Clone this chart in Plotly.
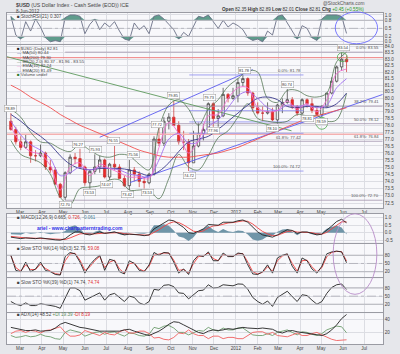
import numpy as np
import pandas as pd
import plotly.graph_objects as go

FONT = "Liberation Sans"

# ---------------- data (weekly) ----------------
week_end = pd.date_range("2011-02-18", "2012-06-08", freq="W-FRI")
dates = week_end - pd.Timedelta(days=2)
bi_dates = dates[::2]

opens = [78.3, 77.7, 76.8, 76.4, 76.8, 75.8, 75.8, 76.0, 75.0, 74.8,
         73.8, 72.9, 74.6, 75.7, 75.6, 75.0, 73.9, 74.7, 75.0, 75.5,
         74.3, 75.2, 75.0, 74.2, 73.7, 74.8, 74.5, 74.0, 73.9, 74.5,
         77.0, 76.7, 78.3, 78.6, 78.0, 76.8, 76.8, 75.3, 76.5, 77.4,
         77.7, 79.6, 78.5, 78.7, 80.3, 80.0, 80.2, 81.2, 81.5, 80.4,
         79.3, 78.9, 78.9, 79.0, 78.4, 79.5, 79.7, 79.9, 79.4, 78.9,
         79.9, 79.6, 79.1, 78.8, 79.4, 80.4, 81.3, 82.4, 83.0]
highs = [78.9, 77.9, 77.2, 77.3, 76.9, 76.2, 76.6, 76.1, 75.5, 75.0,
         73.9, 74.7, 75.9, 76.0, 76.3, 75.1, 74.8, 75.9, 75.8, 75.6,
         75.3, 76.5, 75.2, 74.4, 75.5, 75.0, 74.7, 74.3, 74.6, 77.2,
         77.8, 78.6, 78.9, 79.8, 78.3, 77.6, 77.0, 77.6, 78.2, 78.1,
         79.7, 79.7, 79.2, 80.8, 80.4, 80.8, 81.5, 81.78, 81.6, 80.5,
         79.7, 79.4, 79.7, 79.3, 79.6, 80.0, 80.7, 80.1, 79.5, 80.0,
         80.0, 80.0, 79.4, 79.5, 80.4, 81.6, 82.5, 83.54, 83.3]
lows = [77.6, 76.6, 76.2, 76.3, 75.3, 75.4, 75.7, 74.8, 74.6, 73.8,
        72.9, 72.7, 74.5, 75.2, 74.9, 73.7, 73.5, 74.5, 74.6, 74.2,
        74.1, 74.8, 74.2, 73.6, 73.4, 74.0, 73.6, 73.5, 73.8, 74.4,
        76.5, 76.5, 77.7, 78.0, 76.6, 76.2, 74.72, 75.3, 76.4, 76.9,
        77.6, 77.9, 77.9, 78.6, 79.7, 79.9, 79.7, 80.9, 80.2, 79.0,
        78.8, 78.3, 78.8, 78.3, 78.1, 78.9, 79.6, 79.2, 78.7, 78.8,
        79.3, 78.9, 78.7, 78.6, 79.3, 80.3, 81.2, 82.1, 82.0]
closes = [77.7, 76.8, 76.4, 76.8, 75.8, 75.8, 76.0, 75.0, 74.8, 73.8,
          72.9, 74.6, 75.7, 75.6, 75.0, 73.9, 74.7, 75.0, 75.5, 74.3,
          75.2, 75.0, 74.2, 73.7, 74.8, 74.5, 74.0, 73.9, 74.5, 77.0,
          76.7, 78.3, 78.6, 78.0, 76.8, 76.8, 75.3, 76.5, 77.4, 77.7,
          79.6, 78.5, 78.7, 80.3, 80.0, 80.2, 81.2, 81.5, 80.4, 79.3,
          78.9, 78.9, 79.0, 78.4, 79.5, 79.7, 79.9, 79.4, 78.9, 79.9,
          79.6, 79.1, 78.8, 79.4, 80.4, 81.3, 82.4, 83.0, 82.8]

# overlays (bi-weekly)
ma50 = [78.8, 78.3, 77.7, 77.2, 76.6, 75.8, 75.2, 74.9, 74.8, 74.9,
        74.9, 74.9, 74.8, 74.6, 74.4, 74.7, 75.3, 76.1, 76.8, 77.0,
        77.2, 77.7, 78.3, 78.9, 79.5, 80.0, 80.1, 79.9, 79.4, 79.3,
        79.4, 79.4, 79.3, 79.6, 80.4]
ma200 = [81.0, 80.6, 80.1, 79.7, 79.3, 78.8, 78.4, 78.0, 77.7, 77.4,
         77.1, 76.8, 76.5, 76.2, 76.0, 75.8, 75.7, 75.7, 75.7, 75.8,
         75.9, 76.0, 76.2, 76.4, 76.7, 77.0, 77.3, 77.6, 77.9, 78.2,
         78.5, 78.7, 78.9, 79.1, 79.3]
bb_up = [79.2, 78.6, 77.5, 76.8, 76.7, 76.3, 76.1, 76.6, 76.2, 75.8,
         75.7, 75.9, 75.8, 75.2, 74.8, 77.8, 79.5, 79.9, 79.2, 78.0,
         79.2, 79.9, 80.9, 81.5, 82.1, 82.0, 80.0, 79.7, 80.6, 80.6,
         80.2, 80.1, 80.4, 82.8, 83.55]
bb_lo = [76.9, 75.9, 75.6, 75.3, 74.5, 72.9, 72.4, 73.5, 73.6, 73.7,
         74.1, 74.1, 73.4, 73.4, 73.4, 72.8, 74.2, 75.9, 75.0, 74.8,
         75.8, 77.1, 77.6, 78.6, 79.6, 78.5, 78.3, 78.2, 78.3, 78.8,
         78.7, 78.7, 78.3, 78.4, 80.37]
ema10 = [77.9, 76.7, 76.1, 75.9, 75.1, 73.4, 75.0, 75.3, 74.4, 75.2,
         74.9, 74.6, 74.3, 74.3, 74.2, 76.4, 78.2, 77.4, 76.0, 76.9,
         78.7, 78.8, 80.0, 80.8, 80.8, 79.3, 79.0, 79.1, 79.8, 79.2,
         79.6, 79.0, 79.9, 81.9, 82.24]
ema20 = [78.3, 77.3, 76.6, 76.2, 75.6, 74.4, 74.6, 75.0, 74.8, 75.0,
         74.9, 74.8, 74.5, 74.4, 74.3, 75.5, 77.0, 77.4, 76.7, 76.8,
         77.9, 78.4, 79.3, 80.2, 80.5, 80.0, 79.3, 79.1, 79.5, 79.4,
         79.5, 79.3, 79.5, 80.8, 81.49]

# indicators (weekly)
stochrsi = [0.95, 0.25, 0.10, 0.75, 0.40, 0.85, 0.55, 0.15, 0.00, 0.05,
            0.00, 0.90, 1.00, 1.00, 0.95, 0.30, 0.65, 0.85, 0.45, 0.70,
            0.55, 0.75, 0.40, 0.10, 0.05, 0.70, 0.45, 0.60, 0.30, 0.95,
            1.00, 0.85, 0.65, 0.45, 0.10, 0.35, 0.20, 0.55, 0.95, 0.90,
            1.00, 0.75, 0.50, 0.80, 0.55, 0.70, 0.60, 0.45, 0.15, 0.05,
            0.10, 0.00, 0.40, 0.25, 0.95, 1.00, 0.70, 0.45, 0.10, 0.60,
            0.50, 0.15, 0.05, 0.85, 1.00, 1.00, 1.00, 0.95, 0.31]
macd = [-0.30, -0.35, -0.40, -0.35, -0.40, -0.40, -0.35, -0.40, -0.45, -0.48,
        -0.50, -0.40, -0.15, 0.05, 0.05, -0.10, -0.15, -0.05, 0.05, -0.05,
        0.00, 0.05, -0.05, -0.15, -0.10, -0.10, -0.15, -0.20, -0.15, 0.25,
        0.45, 0.70, 0.85, 0.80, 0.55, 0.35, 0.00, -0.05, 0.10, 0.25,
        0.55, 0.55, 0.50, 0.70, 0.70, 0.70, 0.80, 0.85, 0.70, 0.35,
        0.05, -0.15, -0.20, -0.30, -0.15, 0.05, 0.20, 0.15, -0.05, 0.05,
        0.05, -0.05, -0.15, -0.10, 0.15, 0.45, 0.75, 0.90, 0.665]
signal = [-0.25, -0.30, -0.33, -0.35, -0.36, -0.38, -0.37, -0.38, -0.40, -0.45,
          -0.48, -0.46, -0.35, -0.20, -0.08, -0.06, -0.10, -0.08, -0.03, -0.03,
          -0.02, 0.01, 0.00, -0.07, -0.10, -0.10, -0.12, -0.16, -0.16, 0.00,
          0.20, 0.42, 0.62, 0.73, 0.68, 0.52, 0.28, 0.10, 0.05, 0.12,
          0.32, 0.45, 0.48, 0.58, 0.65, 0.68, 0.73, 0.79, 0.76, 0.58,
          0.32, 0.08, -0.08, -0.20, -0.18, -0.06, 0.08, 0.12, 0.04, 0.03,
          0.04, 0.00, -0.08, -0.10, 0.02, 0.25, 0.52, 0.73, 0.726]
sto14_k = [80, 25, 20, 55, 20, 30, 55, 25, 20, 10,
           8, 75, 90, 85, 55, 15, 45, 65, 80, 25,
           65, 60, 20, 12, 60, 50, 25, 20, 45, 90,
           80, 90, 88, 55, 15, 30, 10, 60, 80, 75,
           92, 60, 60, 88, 75, 75, 88, 85, 45, 12,
           10, 20, 45, 15, 70, 80, 85, 40, 15, 70,
           60, 30, 15, 40, 85, 92, 95, 92, 52.79]
sto14_d = [78, 35, 22, 45, 28, 28, 48, 32, 22, 13,
           10, 60, 85, 87, 62, 25, 38, 60, 76, 35,
           55, 62, 30, 15, 50, 52, 30, 22, 40, 80,
           84, 88, 88, 62, 25, 28, 15, 50, 75, 78,
           88, 68, 60, 82, 78, 76, 85, 86, 55, 20,
           12, 18, 38, 22, 60, 77, 84, 50, 22, 60,
           62, 38, 20, 35, 75, 90, 94, 93, 59.08]
sto39 = [30, 20, 15, 25, 15, 15, 22, 18, 15, 12,
         5, 45, 80, 80, 70, 35, 45, 55, 62, 35,
         55, 60, 45, 30, 50, 45, 25, 18, 30, 75,
         72, 90, 92, 85, 62, 60, 40, 55, 70, 72,
         92, 80, 82, 92, 90, 88, 95, 94, 75, 45,
         30, 20, 32, 12, 45, 58, 68, 48, 30, 55,
         52, 35, 20, 30, 60, 82, 92, 95, 74.74]
adx = [28, 26, 24, 23, 23, 24, 22, 22, 23, 27,
       33, 36, 33, 30, 28, 27, 25, 23, 22, 22,
       22, 23, 22, 24, 25, 22, 19, 17, 15, 18,
       22, 27, 33, 37, 36, 32, 28, 24, 20, 18,
       22, 24, 23, 24, 26, 25, 27, 28, 27, 26,
       26, 27, 26, 25, 21, 19, 22, 23, 21, 20,
       19, 18, 16, 15, 18, 24, 32, 42, 48.52]
plus_di = [15, 12, 13, 15, 13, 14, 17, 14, 13, 10,
           9, 20, 24, 22, 20, 14, 17, 20, 21, 17,
           20, 21, 17, 14, 19, 18, 15, 14, 17, 28,
           26, 30, 31, 27, 20, 20, 16, 20, 23, 22,
           28, 24, 22, 27, 24, 24, 27, 27, 21, 16,
           15, 15, 18, 15, 20, 22, 24, 20, 16, 21,
           20, 17, 15, 18, 24, 27, 30, 29, 19.39]
minus_di = [18, 22, 23, 20, 23, 22, 19, 23, 24, 27,
            29, 20, 14, 14, 16, 23, 20, 17, 15, 20,
            17, 16, 21, 24, 19, 19, 22, 22, 18, 11,
            12, 9, 8, 12, 19, 18, 24, 18, 15, 15,
            10, 14, 14, 10, 12, 12, 10, 10, 15, 20,
            21, 21, 17, 20, 15, 14, 13, 16, 19, 15,
            15, 18, 20, 16, 12, 9, 7, 7, 8.19]

# fibonacci retracements & drawn lines
fibB_levels = [83.55, 79.41, 78.12, 76.84, 72.70]
fibA_levels = [81.78, 79.08, 78.25, 77.42, 74.72]
fib_names = ["0.0%", "38.2%", "50.0%", "61.8%", "100.0%"]
fibA_labelled = [True, False, False, True, True]
fibA_below = [False, False, False, True, False]
fibB_span = ["2011-05-04", "2012-07-27"]
fibA_span = ["2011-10-27", "2012-04-06"]
trend_blue1 = (["2011-06-22", "2012-01-25"], [77.13, 82.19])
trend_blue2 = (["2011-08-04", "2012-07-27"], [73.92, 80.29])
trend_green = (["2011-02-10", "2012-03-20"], [83.2, 77.6])
hline_red = 83.12
hline_pink = 77.35

swing_dates = ["2011-02-15", "2011-05-04", "2011-05-23", "2011-06-07", "2011-06-16",
               "2011-07-01", "2011-07-12", "2011-08-01", "2011-08-09", "2011-08-29",
               "2011-09-12", "2011-10-04", "2011-10-27", "2011-11-25", "2011-12-01",
               "2012-01-13", "2012-02-22", "2012-03-14", "2012-04-12", "2012-05-01",
               "2012-06-01"]
swing_prices = [78.89, 72.70, 76.27, 73.53, 75.93, 74.07, 76.55, 73.42, 75.56, 73.53,
                77.72, 79.85, 74.72, 79.73, 77.96, 81.78, 78.10, 80.74, 78.81, 78.59,
                83.54]
swing_high = [1, 0, 1, 0, 1, 0, 1, 0, 1, 0,
              1, 1, 0, 1, 0, 1, 0, 1, 0, 0, 1]

month_ticks = pd.date_range("2011-03-01", "2012-07-01", freq="MS")
month_text = ["Mar", "Apr", "May", "Jun", "Jul", "Aug", "Sep", "Oct", "Nov", "Dec",
              "2012", "Feb", "Mar", "Apr", "May", "Jun", "Jul"]
price_ticks = [72.5 + 0.5 * i for i in range(24)]

# ---------------- figure ----------------
W, H = 400, 354
XR = ["2011-02-10 12:00", "2012-07-27 17:00"]
panels = {1: (12, 43), 2: (44, 208), 3: (214, 243), 4: (244, 278), 5: (279, 313), 6: (314, 345)}


def pf(y):
    return 1 - y / H


fig = go.Figure()
GRID = "#dcdde3"
TXT = "#444"
lw = 0.9

# panel 1: StochRSI
thr_hi = np.full(len(stochrsi), 0.8)
thr_lo = np.full(len(stochrsi), 0.2)
srsi = np.array(stochrsi)
fig.add_trace(go.Scatter(x=dates, y=thr_hi, mode="lines", line=dict(width=0), xaxis="x", yaxis="y", hoverinfo="skip"))
fig.add_trace(go.Scatter(x=dates, y=np.maximum(srsi, 0.8), mode="lines", line=dict(width=0), fill="tonexty",
                         fillcolor="#5f9c8c", xaxis="x", yaxis="y", hoverinfo="skip"))
fig.add_trace(go.Scatter(x=dates, y=thr_lo, mode="lines", line=dict(width=0), xaxis="x", yaxis="y", hoverinfo="skip"))
fig.add_trace(go.Scatter(x=dates, y=np.minimum(srsi, 0.2), mode="lines", line=dict(width=0), fill="tonexty",
                         fillcolor="#5f9c8c", xaxis="x", yaxis="y", hoverinfo="skip"))
fig.add_trace(go.Scatter(x=dates, y=srsi, mode="lines", line=dict(color="#6a6f86", width=lw), xaxis="x", yaxis="y"))

# panel 2: price
fig.add_trace(go.Scatter(x=XR, y=[hline_red, hline_red], mode="lines", line=dict(color="#f08080", width=1), xaxis="x2", yaxis="y2"))
fig.add_trace(go.Scatter(x=XR, y=[hline_pink, hline_pink], mode="lines", line=dict(color="#f4b0b0", width=1.5), xaxis="x2", yaxis="y2"))
for lvl in fibB_levels:
    fig.add_trace(go.Scatter(x=fibB_span, y=[lvl, lvl], mode="lines", line=dict(color="#a396ad", width=0.8), xaxis="x2", yaxis="y2"))
for lvl in fibA_levels:
    fig.add_trace(go.Scatter(x=fibA_span, y=[lvl, lvl], mode="lines", line=dict(color="#8c8cf0", width=0.8), xaxis="x2", yaxis="y2"))
for (tx, ty), col in [(trend_blue1, "#5b5bf0"), (trend_blue2, "#5b5bf0"), (trend_green, "#5e9a5e")]:
    fig.add_trace(go.Scatter(x=tx, y=ty, mode="lines", line=dict(color=col, width=0.9), xaxis="x2", yaxis="y2"))

fig.add_trace(go.Scatter(x=bi_dates, y=bb_up, mode="lines", line=dict(color="#557755", width=0.8, shape="spline"), xaxis="x2", yaxis="y2"))
fig.add_trace(go.Scatter(x=bi_dates, y=bb_lo, mode="lines", line=dict(color="#557755", width=0.8, shape="spline"), xaxis="x2", yaxis="y2"))
fig.add_trace(go.Scatter(x=bi_dates, y=ma200, mode="lines", line=dict(color="#f05050", width=0.9, shape="spline"), xaxis="x2", yaxis="y2"))
fig.add_trace(go.Scatter(x=bi_dates, y=ma50, mode="lines", line=dict(color="#3a3a8c", width=0.9, shape="spline"), xaxis="x2", yaxis="y2"))
fig.add_trace(go.Scatter(x=bi_dates, y=ema20, mode="lines", line=dict(color="#a070f0", width=0.9, shape="spline"), xaxis="x2", yaxis="y2"))
fig.add_trace(go.Scatter(x=bi_dates, y=ema10, mode="lines", line=dict(color="#f070d0", width=0.9, shape="spline"), xaxis="x2", yaxis="y2"))
fig.add_trace(go.Candlestick(x=dates, open=opens, high=highs, low=lows, close=closes, xaxis="x2", yaxis="y2",
                             increasing=dict(line=dict(color="#333333", width=0.7), fillcolor="#f2f2f2"),
                             decreasing=dict(line=dict(color="#c83030", width=0.7), fillcolor="#ee2a2a"),
                             whiskerwidth=0))

# panel 3: MACD
hist = np.array(macd) - np.array(signal)
fig.add_trace(go.Scatter(x=dates, y=hist * 2.0, mode="lines", line=dict(width=0), fill="tozeroy", fillcolor="#6f95a8",
                         xaxis="x3", yaxis="y3"))
fig.add_trace(go.Scatter(x=dates, y=signal, mode="lines", line=dict(color="#f04040", width=lw), xaxis="x3", yaxis="y3"))
fig.add_trace(go.Scatter(x=dates, y=macd, mode="lines", line=dict(color="#222", width=lw), xaxis="x3", yaxis="y3"))

# panel 4: slow sto 14
fig.add_trace(go.Scatter(x=dates, y=sto14_d, mode="lines", line=dict(color="#f04040", width=lw), xaxis="x4", yaxis="y4"))
fig.add_trace(go.Scatter(x=dates, y=sto14_k, mode="lines", line=dict(color="#222", width=lw), xaxis="x4", yaxis="y4"))
# panel 5: slow sto 39
fig.add_trace(go.Scatter(x=dates, y=sto39, mode="lines", line=dict(color="#222", width=lw), xaxis="x5", yaxis="y5"))
# panel 6: ADX
fig.add_trace(go.Scatter(x=dates, y=plus_di, mode="lines", line=dict(color="#6c9c6c", width=lw), xaxis="x6", yaxis="y6"))
fig.add_trace(go.Scatter(x=dates, y=minus_di, mode="lines", line=dict(color="#f06060", width=lw), xaxis="x6", yaxis="y6"))
fig.add_trace(go.Scatter(x=dates, y=adx, mode="lines", line=dict(color="#222", width=lw), xaxis="x6", yaxis="y6"))

# ---------------- axes ----------------
layout = dict(width=W, height=H, margin=dict(l=7, r=17, t=0, b=0), showlegend=False,
              paper_bgcolor="#e6e7eb", plot_bgcolor="#f8f8fb",
              font=dict(family=FONT, size=5, color=TXT))

yspec = {
    1: dict(range=[-0.074, 1.074], tickvals=[0, 0.2, 0.5, 0.8, 1.0], ticktext=["0.0", "0.2", "0.5", "0.8", "1.0"]),
    2: dict(type="log", range=[1.85843, 1.92497], tickvals=price_ticks, ticktext=[f"{v:.1f}" for v in price_ticks]),
    3: dict(range=[-0.667, 1.267], tickvals=[-0.5, 0, 0.5, 1.0], ticktext=["-0.5", "0.0", "0.5", "1.0"]),
    4: dict(range=[-0.7, 122.2], tickvals=[20, 50, 80], ticktext=["20", "50", "80"]),
    5: dict(range=[-9.6, 115.4], tickvals=[20, 50, 80], ticktext=["20", "50", "80"]),
    6: dict(range=[1.4, 50.6], tickvals=[20, 40], ticktext=["20", "40"]),
}
for i in range(1, 7):
    top, bot = panels[i]
    xa = dict(type="date", range=XR, domain=[0, 1], anchor=f"y{i}", showgrid=True, gridcolor=GRID, gridwidth=0.6,
              tickmode="array", tickvals=month_ticks, ticktext=month_text, ticks="",
              showticklabels=(i in (2, 6)), tickfont=dict(size=4.6, color=TXT),
              showline=True, mirror=True, linecolor="#9a9ba3", linewidth=0.8, zeroline=False, fixedrange=True)
    if i > 1:
        xa["matches"] = "x"
    if i == 2:
        xa["rangeslider"] = dict(visible=False)
    ya = dict(domain=[pf(bot), pf(top)], anchor=f"x{i}", side="right", showgrid=True, gridcolor=GRID, gridwidth=0.6,
              ticks="", tickfont=dict(size=4.6, color=TXT), showline=True, mirror=True, linecolor="#9a9ba3",
              linewidth=0.8, zeroline=False, tickmode="array", fixedrange=True)
    ya.update(yspec[i])
    key = "" if i == 1 else str(i)
    layout["xaxis" + key] = xa
    layout["yaxis" + key] = ya
fig.update_layout(**layout)

# threshold lines
shapes = []


def dom(yr):
    return "x domain" if yr == "y" else yr.replace("y", "x") + " domain"


for yr, v in [("y", 0.5), ("y4", 50), ("y5", 50)]:
    shapes.append(dict(type="line", xref=dom(yr), x0=0, x1=1, yref=yr, y0=v, y1=v,
                       line=dict(color="#a8a8b0", width=0.7, dash="dashdot")))
for yr, v in [("y4", 80), ("y4", 20), ("y5", 80), ("y5", 20), ("y", 0.8), ("y", 0.2)]:
    shapes.append(dict(type="line", xref=dom(yr), x0=0, x1=1, yref=yr, y0=v, y1=v,
                       line=dict(color="#b4b4bc", width=1)))
# ellipses
shapes.append(dict(type="circle", xref="x", yref="paper", x0="2012-05-21", x1="2012-07-20", y0=pf(43), y1=pf(11),
                   line=dict(color="#6a6aff", width=0.9)))
shapes.append(dict(type="circle", xref="x", yref="paper", x0="2012-05-18", x1="2012-07-19", y0=pf(295), y1=pf(214),
                   line=dict(color="#b88cc8", width=0.9)))
shapes.append(dict(type="circle", xref="x", yref="paper", x0="2012-05-24", x1="2012-06-07", y0=pf(61), y1=pf(52),
                   line=dict(color="#4caa4c", width=0.8)))
shapes.append(dict(type="circle", xref="x", yref="paper", x0="2012-04-24", x1="2012-05-10", y0=pf(129), y1=pf(117),
                   line=dict(color="#4caa4c", width=0.8)))
fig.update_layout(shapes=shapes)

ann = []


def text(x, y, s, size=4.8, color=TXT, anchor="left"):
    ann.append(dict(x=x, y=pf(y), xref="paper", yref="paper", text=s, showarrow=False, xanchor=anchor,
                    yanchor="middle", font=dict(size=size, color=color, family=FONT)))


text(7 / W, 4, "<b>$USD</b> (US Dollar Index - Cash Settle (EOD)) ICE", 5.2)
text(7 / W, 11, "8-Jun-2012", 4.6)
text(382 / W, 3, "@StockCharts.com", 4.8, "#555", "right")
text(382 / W, 8.5, "<b>Open</b> 82.35 <b>High</b> 82.89 <b>Low</b> 82.01 <b>Close</b> 82.81 <b>Chg</b> "
     "<span style='color:#2a9a2a'>+0.45 (+0.55%)</span>", 4.6, "#333", "right")
text(9 / W, 16, "■ StochRSI(21) 0.307", 4.6)
legend_lines = [
    (47.7, "<span style='color:#222'>■</span> $USD (Daily) 82.81"),
    (52.0, "<span style='color:#3a3a8c'>—</span> MA(50) 80.44"),
    (56.4, "<span style='color:#f05050'>—</span> MA(200) 79.30"),
    (60.8, "<span style='color:#557755'>—</span> BB(20,2.0) 80.37 - 81.96 - 83.55"),
    (65.2, "<span style='color:#f070d0'>—</span> EMA(10) 82.24"),
    (69.6, "<span style='color:#a070f0'>—</span> EMA(20) 81.49"),
    (74.0, "<span style='color:#2e7d32'>■</span> Volume undef"),
]
for y, s in legend_lines:
    text(9 / W, y, s, 4.3)
text(9 / W, 218, "■ MACD(12,26,9) 0.665, <span style='color:#e03030'>0.726</span>, "
     "<span style='color:#4a7f95'>-0.061</span>", 4.6)
text(30 / W, 228, "<b>ariel - www.chartpatterntrading.com</b>", 5.0, "#3030e8")
text(9 / W, 249, "■ Slow STO %K(14) %D(3) 52.79, <span style='color:#e03030'>59.08</span>", 4.6)
text(9 / W, 283, "■ Slow STO %K(39) %D(1) 74.74, <span style='color:#e03030'>74.74</span>", 4.6)
text(9 / W, 315, "■ ADX(14) 48.52 <span style='color:#5c8c5c'>+DI 19.39</span> "
     "<span style='color:#e03030'>-DI 8.19</span>", 4.6)

for lvl, nm in zip(fibB_levels, fib_names):
    ann.append(dict(x=fibB_span[1], y=np.log10(lvl), xref="x2", yref="y2", text=f"{nm}: {lvl:.2f}", showarrow=False,
                    xanchor="right", yanchor="bottom", xshift=-2, font=dict(size=4.2, color="#555", family=FONT)))
for lvl, nm, show, below in zip(fibA_levels, fib_names, fibA_labelled, fibA_below):
    if show:
        ann.append(dict(x=fibA_span[1], y=np.log10(lvl), xref="x2", yref="y2", text=f"{nm}: {lvl:.2f}",
                        showarrow=False, xanchor="right", yanchor="top" if below else "bottom", xshift=-1,
                        font=dict(size=4.2, color="#555", family=FONT)))
for d, p, hi in zip(swing_dates, swing_prices, swing_high):
    ann.append(dict(x=d, y=np.log10(p), xref="x2", yref="y2", text=f"{p:.2f}", showarrow=False,
                    yanchor="bottom" if hi else "top", yshift=1 if hi else -1,
                    bgcolor="#ffffff", bordercolor="#9a9a9a", borderwidth=0.5, borderpad=0.5,
                    font=dict(size=4.0, color="#333", family=FONT)))
fig.update_layout(annotations=ann)

fig.write_html("out.html")
